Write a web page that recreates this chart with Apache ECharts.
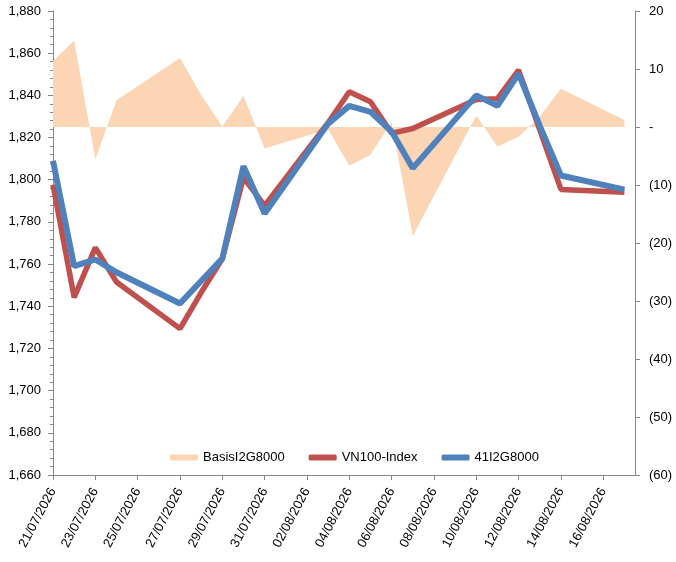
<!DOCTYPE html>
<html>
<head>
<meta charset="utf-8">
<script src="https://cdn.jsdelivr.net/npm/echarts@6/dist/echarts.min.js"></script>
<style>
  html, body { margin: 0; padding: 0; background: #fff; }
  #chart { width: 676px; height: 562px; }
</style>
</head>
<body>
<div id="chart"></div>
<script>
// trading days shown on the chart
var dates = ['21/07/2026', '22/07/2026', '23/07/2026', '24/07/2026', '27/07/2026',
    '28/07/2026', '29/07/2026', '30/07/2026', '31/07/2026', '03/08/2026',
    '04/08/2026', '05/08/2026', '06/08/2026', '07/08/2026', '10/08/2026',
    '11/08/2026', '12/08/2026', '13/08/2026', '14/08/2026', '17/08/2026'];

var vn100 = [1797.6, 1744.2, 1767.8, 1751.5, 1729.4, 1746.5, 1762.5, 1801.0, 1787.7, 1827.0,
    1841.7, 1837.0, 1822.0, 1824.3, 1838.0, 1838.4, 1852.0, 1823.7, 1795.4, 1794.1];

var futures = [1809.0, 1759.0, 1762.2, 1756.1, 1741.3, 1752.0, 1762.6, 1806.4, 1784.0, 1826.6,
    1835.0, 1832.2, 1822.9, 1805.5, 1840.0, 1835.0, 1850.3, 1825.5, 1802.0, 1795.3];

var basis = [11.4, 14.9, -5.6, 4.6, 11.9, 5.5, 0.1, 5.4, -3.7, -0.4,
    -6.7, -4.8, 0.9, -18.8, 2.0, -3.4, -1.7, 1.8, 6.6, 1.2];

var names = ['BasisI2G8000', 'VN100-Index', '41I2G8000'];

//== date helpers, x axis counts days from the first date
var DAY = 24 * 3600 * 1000;
function parseDate(s) {
    var p = s.split('/');
    return Date.UTC(+p[2], +p[1] - 1, +p[0]);
}
var start = parseDate(dates[0]);
function dayIndex(s) {
    return Math.round((parseDate(s) - start) / DAY);
}
function dayLabel(v) {
    var d = new Date(start + v * DAY);
    var dd = ('0' + d.getUTCDate()).slice(-2);
    var mm = ('0' + (d.getUTCMonth() + 1)).slice(-2);
    return dd + '/' + mm + '/' + d.getUTCFullYear();
}
function pairs(values) {
    var out = [];
    for (var i = 0; i < dates.length; i++) {
        out.push([dayIndex(dates[i]), values[i]]);
    }
    return out;
}

var axisColor = '#868686';
var font = 'Liberation Sans, Arial, sans-serif';

var myChart = echarts.init(document.getElementById('chart'));

var option = {
    backgroundColor: '#fff',
    animation: false,
    textStyle: { fontFamily: font },
    grid: { left: 53, right: 41, top: 11, bottom: 87 },
    legend: {
        left: 165,
        top: 446,
        itemWidth: 28,
        itemHeight: 6,
        itemGap: 24,
        textStyle: { fontFamily: font, fontSize: 13, color: '#000' },
        data: [
            { name: names[0], icon: 'rect' },
            { name: names[1], icon: 'roundRect' },
            { name: names[2], icon: 'roundRect' }
        ]
    },
    xAxis: {
        type: 'value',
        min: 0,
        max: 27.5,
        interval: 2,
        splitLine: { show: false },
        axisLine: { onZero: false, lineStyle: { color: axisColor } },
        axisTick: { length: 5, lineStyle: { color: axisColor } },
        axisLabel: {
            rotate: 62,
            margin: 14,
            fontSize: 13,
            color: '#000',
            fontFamily: font,
            showMaxLabel: false,
            formatter: function (v) {
                return v % 1 === 0 ? dayLabel(v) : '';
            }
        }
    },
    yAxis: [{
        type: 'value',
        min: 1660,
        max: 1880,
        interval: 20,
        splitLine: { show: false },
        axisLine: { show: true, lineStyle: { color: axisColor } },
        axisTick: { show: true, length: 5, lineStyle: { color: axisColor } },
        minorTick: { show: true, splitNumber: 5, length: 3, lineStyle: { color: axisColor } },
        axisLabel: {
            margin: 12,
            fontSize: 13,
            color: '#000',
            fontFamily: font,
            formatter: function (v) {
                return echarts.format.addCommas(v);
            }
        }
    }, {
        type: 'value',
        position: 'right',
        min: -60,
        max: 20,
        interval: 10,
        splitLine: { show: false },
        axisLine: { show: true, lineStyle: { color: axisColor } },
        axisTick: { show: true, length: 5, lineStyle: { color: axisColor } },
        axisLabel: {
            margin: 14,
            fontSize: 13,
            color: '#000',
            fontFamily: font,
            formatter: function (v) {
                if (v === 0) return '-';
                return v < 0 ? '(' + Math.abs(v) + ')' : String(v);
            }
        }
    }],
    series: [
        {
            name: names[0],
            type: 'line',
            yAxisIndex: 1,
            symbol: 'none',
            color: '#FCD5B5',
            lineStyle: { width: 0 },
            areaStyle: { color: '#FCD5B5', opacity: 1 },
            data: pairs(basis)
        },
        {
            name: names[1],
            type: 'line',
            symbol: 'none',
            color: '#C0504D',
            lineStyle: { width: 5.5, color: '#C0504D' },
            data: pairs(vn100)
        },
        {
            name: names[2],
            type: 'line',
            symbol: 'none',
            color: '#4F81BD',
            lineStyle: { width: 6, color: '#4F81BD' },
            data: pairs(futures)
        }
    ]
};

myChart.setOption(option);
</script>
</body>
</html>
